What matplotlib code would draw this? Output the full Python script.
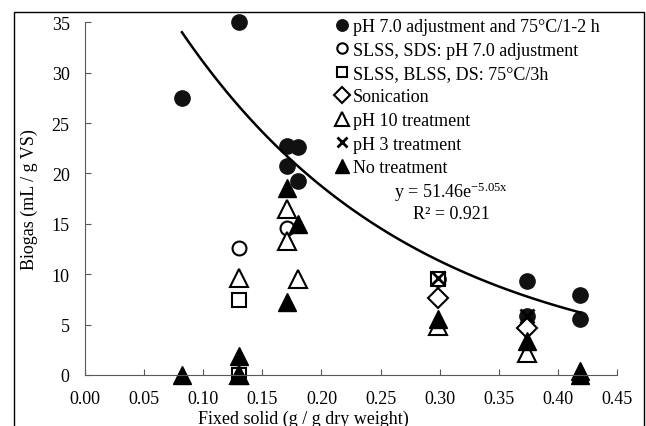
import numpy as np
import matplotlib
matplotlib.use("Agg")
import matplotlib.pyplot as plt
from matplotlib.patches import Rectangle

plt.rcParams['font.family'] = ['Liberation Serif', 'DejaVu Serif']
plt.rcParams['mathtext.fontset'] = 'custom'
plt.rcParams['mathtext.rm'] = 'Liberation Serif'
plt.rcParams['mathtext.it'] = 'Liberation Serif:italic'

# data (fixed solid, biogas)
ph7_x = [0.082, 0.130, 0.171, 0.180, 0.171, 0.180, 0.299, 0.374, 0.374, 0.419, 0.419]
ph7_y = [27.5, 35.0, 22.7, 22.6, 20.7, 19.3, 9.5, 9.3, 5.9, 7.9, 5.6]

sds_x = [0.130, 0.171]
sds_y = [12.6, 14.6]

blss_x = [0.130, 0.130, 0.299]
blss_y = [7.4, 0.0, 9.5]

son_x = [0.299, 0.374]
son_y = [7.6, 4.7]

ph10_x = [0.130, 0.171, 0.171, 0.180, 0.299, 0.374, 0.130]
ph10_y = [9.6, 16.5, 13.3, 9.5, 4.9, 2.2, 0.0]

ph3_x = [0.299, 0.374]
ph3_y = [9.6, 5.9]

none_x = [0.082, 0.130, 0.130, 0.171, 0.180, 0.171, 0.299, 0.374, 0.419, 0.419]
none_y = [0.0, 1.9, 0.0, 18.6, 15.0, 7.2, 5.6, 3.4, 0.4, 0.0]

labels = ["pH 7.0 adjustment and 75°C/1-2 h",
          "SLSS, SDS: pH 7.0 adjustment",
          "SLSS, BLSS, DS: 75°C/3h",
          "Sonication",
          "pH 10 treatment",
          "pH 3 treatment",
          "No treatment"]

# exponential trendline shown on the chart
fit_a, fit_b = 51.46, -5.05

fig = plt.figure(figsize=(6.46, 4.27), dpi=100)
ax = fig.add_axes([85/646, 1-376/427, 532/646, (376-23.3)/427])

k = dict(linestyle='none', clip_on=False)
ax.plot(ph7_x, ph7_y, marker='o', ms=11, mfc='#111111', mec='#111111', label=labels[0], **k)
ax.plot(sds_x, sds_y, marker='o', ms=10, mfc='white', mec='black', mew=1.5, label=labels[1], **k)
ax.plot(blss_x, blss_y, marker='s', ms=10, mfc='white', mec='black', mew=1.5, label=labels[2], **k)
ax.plot(son_x, son_y, marker='D', ms=10.5, mfc='white', mec='black', mew=1.5, label=labels[3], **k)
ax.plot(ph10_x, ph10_y, marker='^', ms=13, mfc='white', mec='black', mew=1.5, label=labels[4], **k)
ax.plot(ph3_x, ph3_y, marker='x', ms=10, mec='black', mew=2, label=labels[5], **k)
ax.plot(none_x, none_y, marker='^', ms=13, mfc='black', mec='black', label=labels[6], **k)

xs = np.linspace(min(ph7_x), max(ph7_x), 100)
ax.plot(xs, fit_a*np.exp(fit_b*xs), color='black', lw=1.8)

ax.set_xlim(0, 0.45)
ax.set_ylim(0, 35)
ax.set_xticks(np.arange(0, 0.451, 0.05))
ax.set_xticklabels([f"{v:.2f}" for v in np.arange(0, 0.451, 0.05)])
ax.set_yticks(range(0, 36, 5))
for s in ['top', 'right']:
    ax.spines[s].set_visible(False)
for s in ['left', 'bottom']:
    ax.spines[s].set_color('#595959')
ax.tick_params(direction='in', length=4, color='#595959', labelsize=13, pad=11)
ax.set_xlabel("Fixed solid (g / g dry weight)", fontsize=13)
ax.xaxis.set_label_coords(0.41, -0.097)
ax.set_ylabel("Biogas (mL / g VS)", fontsize=13)
ax.yaxis.set_label_coords(-0.088, 0.5)
ax.patch.set_alpha(0)

leg = ax.legend(loc='upper left', bbox_to_anchor=(336/646, 1-19/427), bbox_transform=fig.transFigure,
                frameon=False, fontsize=13, handlelength=0.7, handletextpad=0.25,
                borderpad=0, borderaxespad=0, labelspacing=0.36, markerscale=0.75)

fig.text(451/646, 1-192/427, r"y = 51.46e$^{\mathrm{-5.05x}}$", ha='center', va='center', fontsize=13)
fig.text(451/646, 1-215/427, "R² = 0.921", ha='center', va='center', fontsize=13)

fig.patches.append(Rectangle((14/646, -0.1), 630/646, 1.1-12.7/427, transform=fig.transFigure,
                             fill=False, edgecolor='black', lw=1))

fig.savefig("out.png", dpi=100)
